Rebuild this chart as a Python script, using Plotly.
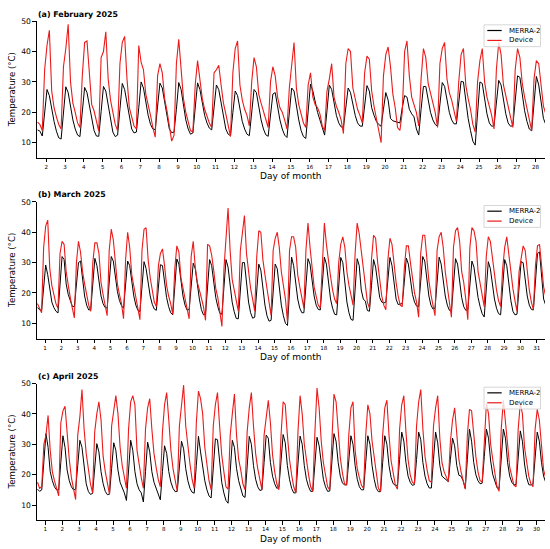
import plotly.graph_objects as go

# ---------------- data (°C) ----------------
# Samples every 3 h (UTC hours 1,4,...,22); first row of a month starts at 13 h,
# last row ends at 13 h.
feb_start_day = 1
feb_ticks = list(range(2, 29))
feb_merra = [
    [14.2, 13.8, 12.2, 19.5],
    [27.5, 25.5, 21, 17, 13.8, 11.6, 11.2, 19.5],
    [28.4, 26.5, 22, 17.5, 14.5, 12.5, 12.0, 20],
    [28.2, 26.5, 22, 17.5, 14, 12.2, 12.1, 20.2],
    [28.5, 27, 22, 17, 13.5, 12.0, 12.5, 21],
    [29.5, 27.5, 23, 18, 14.5, 13.2, 13.5, 21.5],
    [30, 28, 23.5, 19, 16, 14.5, 14.3, 22],
    [29.6, 28, 23, 18, 14.5, 13.3, 13.5, 21],
    [29.8, 27.5, 22.5, 17.5, 14.5, 12.8, 13.2, 21.5],
    [29.7, 27.5, 23, 19, 16.5, 14.8, 14.2, 22],
    [29, 27.5, 23, 18, 14.5, 12.8, 12.3, 20],
    [27, 25.5, 21.5, 17, 14.5, 12.8, 12.3, 20],
    [27.5, 26.5, 22, 17.5, 14.5, 12.6, 12.1, 19.5],
    [26, 26.5, 22, 17.5, 14.5, 12.5, 11.7, 19.5],
    [28, 27, 22, 17.5, 14, 12, 11.4, 20],
    [29.3, 27, 23, 20, 17.5, 15, 12.5, 20.5],
    [29, 27.5, 23, 19, 16.5, 15.2, 15, 21.5],
    [28, 26.5, 22.5, 19, 16.5, 15.5, 15.4, 22],
    [28.8, 27, 21.5, 19, 17, 16, 15.4, 21],
    [26.5, 24, 18, 17.2, 17, 16.8, 16.5, 21.5],
    [25.5, 25, 21, 19.5, 18.5, 14.5, 12.5, 21],
    [28.5, 28.5, 24, 20, 17.5, 16, 15.4, 22.5],
    [29.8, 28.5, 24, 20, 17.5, 16.2, 16.2, 23],
    [30.2, 30, 24, 18, 14, 10.5, 9.2, 19.5],
    [30, 29.5, 24, 19.5, 16.5, 15.4, 15.6, 23],
    [30.5, 29, 24, 19.5, 16.5, 15.4, 15.6, 23.5],
    [32, 31.5, 26, 20.5, 17, 14.5, 13.9, 22.5],
    [31.8, 29, 23, 18, 16],
]
feb_device = [
    [16.8, 16, 14, 34],
    [42, 47, 27, 21.5, 18.5, 16, 14.5, 35],
    [41, 49, 30, 23, 20, 16.5, 15, 32],
    [43, 43.5, 33, 22.5, 20.5, 17, 13.8, 38],
    [40, 46.5, 31, 24, 20, 16, 14, 36],
    [43, 45, 31, 21.5, 18.5, 15.5, 14.5, 42],
    [36.5, 34, 26, 23, 19, 15, 11.8, 32],
    [36, 33, 24.5, 20.5, 16, 10.5, 12.5, 36],
    [44, 34, 24.5, 20, 17, 14, 13.5, 29],
    [37, 31, 24.5, 21, 18.5, 16.5, 15, 33],
    [34, 35.5, 29, 23, 19.5, 16, 12, 33],
    [41, 43.5, 29, 24, 21, 19, 15.5, 30],
    [38, 35, 26, 23, 20.5, 18, 15, 30],
    [35, 32, 25, 21.5, 20, 17.5, 14.5, 28],
    [36, 43, 28, 22.5, 19.5, 16.5, 15, 29],
    [33, 25, 22.5, 21.5, 19.5, 15.5, 14, 27],
    [31, 36, 25, 22, 20, 17.5, 13, 36],
    [41, 40, 28, 24, 21, 19, 16.5, 33],
    [38.5, 37.5, 27, 22, 18, 14, 10, 32],
    [39, 41.5, 35, 26, 21.5, 15, 14, 20],
    [40, 43.5, 32, 25, 22.5, 20, 15.5, 31],
    [41, 38, 29.5, 26, 23, 20, 15, 36],
    [41, 43, 31, 26.5, 24, 20, 17, 30],
    [39, 41, 29, 24.5, 21, 16, 13.5, 30],
    [37, 41, 30, 25, 22, 19, 14.5, 34],
    [43, 39, 29, 25.5, 22, 19, 15, 34],
    [41, 38, 29.5, 25, 21.5, 17.5, 14, 31],
    [37, 36, 28, 22, 19.5],
]

mar_start_day = 0
mar_ticks = list(range(1, 32))
mar_merra = [
    [15.2, 14.5, 14.2, 22],
    [29.2, 26, 20.5, 17, 15.2, 14, 13.4, 23],
    [32, 31, 23, 19.5, 17.2, 15.6, 15.5, 23],
    [30, 30.5, 24, 19, 16, 14.4, 14.6, 23],
    [31.4, 29, 23.5, 19, 16.5, 15.2, 15, 23.5],
    [32, 30.5, 25, 20.5, 17.5, 15.8, 15, 23],
    [30.5, 29, 23.5, 19, 16, 14.3, 13.9, 22],
    [30.3, 28, 23, 19, 16.3, 14.7, 14.3, 22],
    [29.3, 29, 23, 18.5, 15.5, 13.5, 12.8, 22],
    [31.2, 29.5, 23.5, 19, 16, 14.4, 14.5, 22],
    [29.8, 28, 22.5, 18, 14.5, 12.8, 13, 21.5],
    [31, 29, 23, 18.5, 15.5, 13.3, 13, 21.5],
    [31, 28.5, 22, 17, 13.8, 11.6, 11.5, 21],
    [30, 30, 22.5, 17, 13.5, 11.7, 12, 20.5],
    [29.5, 27.5, 21, 16, 12.5, 10.7, 11, 20],
    [29.5, 28, 21.5, 16, 12.5, 10, 9.3, 20],
    [31.8, 29, 23, 18, 15, 13.5, 13.5, 22.5],
    [31.3, 29.5, 23.5, 19, 16, 14.6, 14.4, 23],
    [31.8, 29.5, 23, 18, 15, 13, 12.8, 22],
    [31.7, 30, 23, 17, 13.5, 11.3, 11, 21.5],
    [31.3, 29, 21, 18, 17.3, 14.2, 14, 22.5],
    [31, 28.5, 23, 18.5, 17, 16.7, 17, 24],
    [31.7, 29, 22.5, 18, 16.2, 16.3, 16.5, 23.5],
    [31.5, 29.5, 23.5, 19.5, 17, 15.7, 15.5, 23.5],
    [32, 30.5, 24, 19, 16, 14.7, 15, 23],
    [31.8, 29.5, 23.5, 19, 16, 14.3, 14, 22.5],
    [31.3, 29.5, 23, 18.5, 15.5, 14.3, 14.5, 22.5],
    [30.5, 28.5, 23, 18.5, 15.5, 13.2, 12.1, 21.5],
    [30.3, 28, 22.5, 18, 15, 13.2, 12.8, 22],
    [31, 29, 22.5, 17.5, 14, 12.8, 13, 21.5],
    [30.3, 30, 23.5, 19, 16, 14.6, 14.4, 23],
    [33, 33.5, 26, 18, 16],
]
mar_device = [
    [16.5, 15, 13.5, 35],
    [42, 44, 28, 22.5, 19.5, 16.5, 15, 33],
    [37, 36, 27, 22, 18.5, 15, 11.8, 30],
    [37, 33.5, 27, 23, 19.5, 16, 14, 30],
    [36.5, 36.5, 33, 23.5, 19.5, 16, 12.5, 34],
    [41, 37.5, 29, 23, 19.5, 16.5, 11.5, 31],
    [40, 35, 26, 22.5, 19.5, 15.5, 11.2, 34],
    [41, 41.5, 31, 25, 21, 17, 15.5, 29],
    [33, 34.5, 29, 22.5, 19, 16.5, 13, 28],
    [35.5, 33.5, 25, 21.5, 18.5, 15.5, 11.5, 32],
    [37, 28.5, 23.5, 21, 18.5, 15.5, 11, 36],
    [35.5, 32.5, 27.5, 21.5, 18.5, 13, 9, 28],
    [40, 48, 34, 24.5, 21, 18, 14, 34],
    [39, 45.5, 33, 26, 21.5, 18, 14, 32],
    [40.5, 40, 31, 26, 21.5, 17, 12.5, 34],
    [38, 40, 35, 27, 23, 18, 10.5, 34],
    [38.5, 38.5, 35, 26, 22, 18.5, 15, 34],
    [43, 35, 29, 22, 19, 16, 15, 31],
    [43, 36, 30, 25.5, 21, 18, 16.5, 30],
    [36, 38.5, 35, 27, 22.5, 19, 16, 33],
    [43, 39.5, 34, 27, 21.5, 17, 15, 31],
    [39, 38, 30, 24, 19, 16, 14.5, 31],
    [38, 36, 29, 23.5, 19, 16, 15.5, 28],
    [35.5, 35.5, 30, 24, 20, 17, 12, 33],
    [39, 39, 30, 24, 19.5, 16, 12.5, 34],
    [38.5, 40, 35, 27, 21.5, 17, 12, 35],
    [40.5, 41.5, 37, 27, 23.5, 18, 11.2, 35],
    [41.5, 40.5, 37, 27, 23, 19, 15.5, 32],
    [38.5, 37, 31, 25.5, 21, 17.5, 15.5, 28],
    [35, 38.5, 33, 26, 21.5, 17.5, 14, 27],
    [32, 35.5, 34, 27, 21, 17, 14.5, 29],
    [35.5, 36, 30, 22, 19],
]

apr_start_day = 0
apr_ticks = list(range(1, 31))
apr_merra = [
    [15.2, 14.5, 15, 26],
    [33.5, 29, 21, 18, 16, 15, 15, 24],
    [32.8, 29, 21.5, 18, 16, 15, 15.2, 23],
    [31.3, 29, 22, 17, 14.5, 13.5, 13.8, 22],
    [30.2, 27.5, 21, 17, 14.5, 13.4, 13.6, 22],
    [30.5, 28, 21.5, 17.5, 16, 14, 11.5, 22],
    [31.3, 28, 21, 17, 15, 14, 11, 21],
    [30.7, 27.5, 21, 17.5, 15.5, 13, 11.7, 21],
    [29.5, 27, 21, 17.5, 15.5, 14.4, 14.5, 22.5],
    [31, 28.5, 22, 18, 15.5, 14.2, 13.9, 23],
    [32.6, 27.5, 22, 18, 15, 13, 12.3, 22],
    [31.8, 31.5, 23, 17.5, 14, 11.5, 10.6, 21],
    [31.3, 29, 22, 18, 15.5, 13, 12.5, 22.5],
    [32.6, 30, 23, 18.5, 16, 14.8, 15, 24],
    [33, 32, 24, 19.5, 17, 15.5, 15.8, 24.5],
    [33.2, 30.5, 23, 18.5, 15.5, 14, 14, 23.5],
    [32.7, 30, 23, 18.5, 16, 14.5, 14.5, 23.5],
    [32.3, 29.5, 23, 18.5, 16, 14.5, 14.6, 24],
    [33.5, 31, 24, 19.5, 17.3, 16.6, 16.7, 24.5],
    [32.8, 30, 23, 18.5, 16, 15, 15, 24],
    [32.8, 30, 23, 18.5, 15.5, 14.4, 14.4, 24],
    [32.8, 30, 23, 19, 17, 16.5, 16.5, 25],
    [34, 31, 24, 19.5, 17.5, 16.5, 16.7, 25],
    [34, 31.5, 24, 19.5, 17, 15.6, 15.6, 25],
    [34, 30.5, 23, 19.5, 19, 18.3, 17.7, 25],
    [32, 29.5, 23, 19.8, 19.5, 18, 15.5, 25],
    [35, 31, 24, 20, 18, 17, 17.2, 26],
    [35, 32, 24.5, 20, 17.5, 15.7, 15.5, 25.5],
    [35, 32, 24, 19.5, 17.5, 16.6, 16.8, 25.5],
    [34.4, 31, 23.5, 19, 16.7, 16.6, 17, 25.5],
    [34, 31, 24, 19.5, 17.5],
]
apr_device = [
    [17.5, 15.5, 16, 30],
    [33, 39.5, 28, 21, 18, 15, 13, 37],
    [41, 42.5, 32, 25, 19, 15, 11.8, 33],
    [39, 48, 35, 27, 22, 17, 14, 34],
    [40, 44, 38, 26, 21, 16.5, 13.5, 36],
    [41, 46, 40, 29, 23, 18.5, 15.5, 35],
    [44, 46, 43, 28, 23, 19, 15.5, 35],
    [42, 45, 35, 27, 22.5, 18.5, 16, 34],
    [43, 47, 38, 28, 22, 18.5, 14.5, 36],
    [44, 49.5, 36, 29, 23.5, 18.5, 15.5, 37],
    [47.5, 45, 40, 29, 24, 18, 15, 36],
    [43, 47, 36, 26.5, 21, 16, 15.2, 33],
    [40, 46.5, 33, 25, 21.5, 17, 15, 34],
    [42, 47, 36, 27, 22, 18, 15, 33],
    [40, 44.5, 37, 26.5, 21, 17, 15, 33],
    [44, 43, 33, 25, 20, 16, 14, 34],
    [46, 40, 30, 24, 20, 16, 14.5, 34],
    [48.5, 42, 31, 24, 20.5, 16, 15, 34],
    [46.5, 44, 33, 25.5, 20.5, 17, 16.5, 33],
    [42, 44, 28, 22, 19, 16.5, 15.5, 33],
    [43, 40, 31, 26, 20, 15.5, 14.5, 33],
    [42, 44.5, 33, 24.5, 20.5, 16.5, 15.2, 35],
    [43, 46, 34, 25, 20, 17.5, 17, 36],
    [44, 48, 35, 26, 21.5, 18, 17.5, 36],
    [42, 46, 32, 24, 21, 19, 17.7, 31],
    [38, 42, 34, 25, 21, 18, 15.2, 33],
    [41.5, 41, 33, 26, 21, 18, 17.6, 31],
    [43.5, 40, 30, 25, 20.5, 16, 14.5, 35],
    [44.5, 38, 30, 22.5, 19.5, 16.5, 16, 35],
    [43.5, 40, 29, 24, 19.5, 17, 16, 35],
    [41.5, 38, 28, 21.5, 19],
]

panel_titles = ["(a) February 2025", "(b) March 2025", "(c) April 2025"]
series_names = ["MERRA-2", "Device"]
y_ticks = [10, 20, 30, 40, 50]

# ---------------- helpers ----------------
HOURS_FIRST = [13, 16, 19, 22]
HOURS_FULL = [1, 4, 7, 10, 13, 16, 19, 22]
HOURS_LAST = [1, 4, 7, 10, 13]


def flatten(start_day, rows):
    xs, ys = [], []
    n = len(rows)
    for i, row in enumerate(rows):
        if i == 0:
            hrs = HOURS_FIRST
        elif i == n - 1:
            hrs = HOURS_LAST
        else:
            hrs = HOURS_FULL
        for h, v in zip(hrs, row):
            xs.append(start_day + i + h / 24.0)
            ys.append(v)
    return xs, ys


W, H = 550, 549
FONT = "DejaVu Sans"
BLACK = "#000000"
RED = "#ec1a1a"


def px_x(p):
    return p / W


def px_y(p):
    return 1 - p / H


panels = [
    dict(start=feb_start_day, merra=feb_merra, device=feb_device, ticks=feb_ticks,
         rng=[1.5, 28.5], top=17.3, bottom=155.0),
    dict(start=mar_start_day, merra=mar_merra, device=mar_device, ticks=mar_ticks,
         rng=[0.5, 31.5], top=199.3, bottom=337.0),
    dict(start=apr_start_day, merra=apr_merra, device=apr_device, ticks=apr_ticks,
         rng=[0.5, 30.5], top=382.3, bottom=520.0),
]

LEFT, RIGHT = 36.8, 545.0

fig = go.Figure()
annotations = []
shapes = []

for k, p in enumerate(panels):
    sfx = "" if k == 0 else str(k + 1)
    xa, ya = "x" + sfx, "y" + sfx
    mx, my = flatten(p["start"], p["merra"])
    dx, dy = flatten(p["start"], p["device"])
    fig.add_trace(go.Scatter(x=mx, y=my, mode="lines", name=series_names[0],
                             line=dict(color=BLACK, width=1), xaxis=xa, yaxis=ya,
                             showlegend=False, hoverinfo="skip"))
    fig.add_trace(go.Scatter(x=dx, y=dy, mode="lines", name=series_names[1],
                             line=dict(color=RED, width=1.1), xaxis=xa, yaxis=ya,
                             showlegend=False, hoverinfo="skip"))

    dom_y = [px_y(p["bottom"]), px_y(p["top"])]
    fig.update_layout(**{
        "xaxis" + sfx: dict(domain=[px_x(LEFT), px_x(RIGHT)], range=p["rng"],
                            anchor=ya, tickmode="array", tickvals=p["ticks"],
                            ticktext=[str(t) for t in p["ticks"]],
                            ticks="outside", ticklen=3.5, tickwidth=0.8,
                            tickcolor=BLACK, showline=True, linecolor=BLACK,
                            linewidth=0.9, showgrid=False, zeroline=False,
                            tickfont=dict(family=FONT, size=5.6, color=BLACK)),
        "yaxis" + sfx: dict(domain=dom_y, range=[5, 50], anchor=xa,
                            tickmode="array", tickvals=y_ticks,
                            ticks="outside", ticklen=3.5, tickwidth=0.8,
                            tickcolor=BLACK, showline=True, linecolor=BLACK,
                            linewidth=0.9, showgrid=False, zeroline=False,
                            tickfont=dict(family=FONT, size=7.6, color=BLACK)),
    })

    top, bot = p["top"], p["bottom"]
    # panel title
    annotations.append(dict(text="<b>" + panel_titles[k] + "</b>", xref="paper", yref="paper",
                            x=px_x(LEFT - 1), y=px_y(top - 7.0), xanchor="left", yanchor="middle",
                            showarrow=False, font=dict(family=FONT, size=7.9, color=BLACK)))
    # axis titles
    annotations.append(dict(text="Day of month", xref="paper", yref="paper",
                            x=px_x((LEFT + RIGHT) / 2), y=px_y(bot + 18.5),
                            xanchor="center", yanchor="middle", showarrow=False,
                            font=dict(family=FONT, size=9, color=BLACK)))
    annotations.append(dict(text="Temperature (°C)", xref="paper", yref="paper",
                            x=px_x(11.7), y=px_y((top + bot) / 2), textangle=-90,
                            xanchor="center", yanchor="middle", showarrow=False,
                            font=dict(family=FONT, size=8.6, color=BLACK)))
    # legend (drawn as box + sample lines + labels)
    lx0, lx1 = 484.0, 540.5
    ly0, ly1 = top + 3.7, top + 25.7
    shapes.append(dict(type="rect", xref="paper", yref="paper",
                       x0=px_x(lx0), x1=px_x(lx1), y0=px_y(ly1), y1=px_y(ly0),
                       line=dict(color="#cccccc", width=0.8),
                       fillcolor="rgba(255,255,255,0.8)", layer="above"))
    for j, (nm, col) in enumerate([(series_names[0], BLACK), (series_names[1], RED)]):
        yy = top + 9.4 + 10.0 * j
        shapes.append(dict(type="line", xref="paper", yref="paper",
                           x0=px_x(487.3), x1=px_x(501.7), y0=px_y(yy), y1=px_y(yy),
                           line=dict(color=col, width=1.2), layer="above"))
        annotations.append(dict(text=nm, xref="paper", yref="paper",
                                x=px_x(506.5), y=px_y(yy), xanchor="left", yanchor="middle",
                                showarrow=False, font=dict(family=FONT, size=7, color=BLACK)))

fig.update_layout(width=W, height=H, margin=dict(l=0, r=0, t=0, b=0),
                  paper_bgcolor="white", plot_bgcolor="white",
                  annotations=annotations, shapes=shapes, showlegend=False,
                  font=dict(family=FONT, color=BLACK))

fig.write_html("out.html", config={"displayModeBar": False},
               post_script="document.body.style.margin='0';document.body.style.padding='0';")
